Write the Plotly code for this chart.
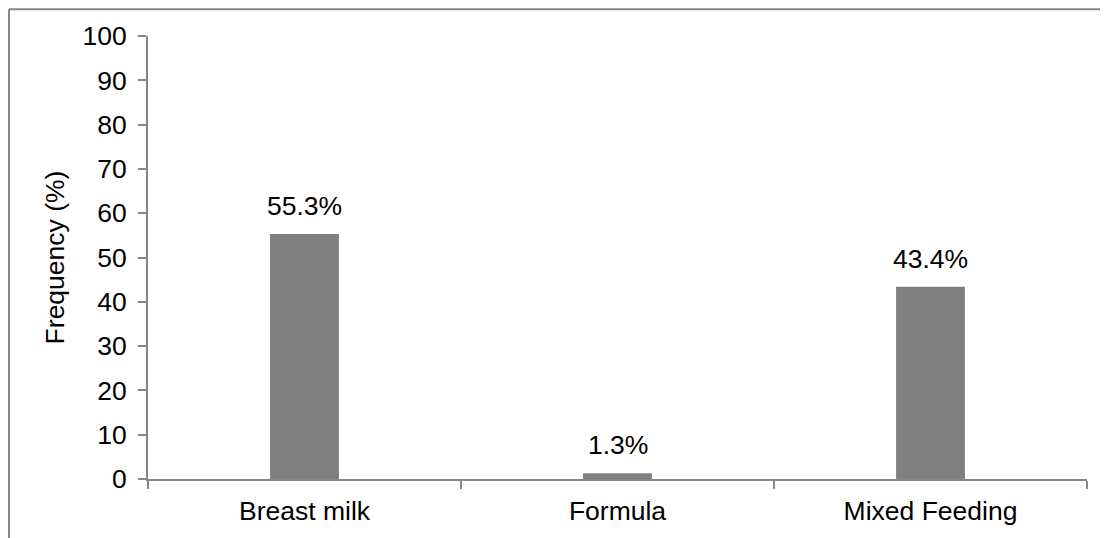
import plotly.graph_objects as go

categories = ["Breast milk", "Formula", "Mixed Feeding"]
values = [55.3, 1.3, 43.4]
labels = ["55.3%", "1.3%", "43.4%"]
y_ticks = [0, 10, 20, 30, 40, 50, 60, 70, 80, 90, 100]

# page has an 8px body margin; figure is placed at (8, 8)
OFF = 8
W, H = 1108 - OFF, 538 - OFF
L, R, T, B = 148 - OFF, 1087 - OFF, 36 - OFF, 483 - OFF

FONT = "Liberation Sans, Arial"
FS = 26.5

fig = go.Figure(go.Bar(
    x=categories, y=values,
    marker=dict(color="#808080", line=dict(width=0)),
    width=0.22,
))

for c, v, t in zip(categories, values, labels):
    fig.add_annotation(x=c, y=v, text=t, showarrow=False, yanchor="bottom",
                       yshift=11, font=dict(family=FONT, size=FS, color="#000000"))

axis_col = "#868686"
fig.update_layout(
    width=W, height=H,
    margin=dict(l=L, r=W - R, t=T, b=H - B, pad=0),
    paper_bgcolor="white", plot_bgcolor="white",
    font=dict(family=FONT, size=FS, color="#000000"),
    showlegend=False,
    xaxis=dict(showline=True, linecolor=axis_col, linewidth=2, ticks="outside",
               tickcolor=axis_col, ticklen=8, tickwidth=1.5, tickson="boundaries",
               showgrid=False, zeroline=False, ticklabelstandoff=7),
    yaxis=dict(range=[0, 100], tickvals=y_ticks, showline=True, linecolor=axis_col,
               linewidth=2, ticks="outside", tickcolor=axis_col, ticklen=8, tickwidth=1.5,
               showgrid=False, zeroline=False, ticklabelstandoff=6,
               title=dict(text="Frequency (%)", standoff=10,
                          font=dict(family=FONT, size=FS))),
)

pw, ph = R - L, B - T
bx, by = 9 - OFF, 9 - OFF
fig.add_shape(type="line", xref="paper", yref="paper",
              x0=(bx - L) / pw, x1=(W + 20 - L) / pw, y0=(B - by) / ph, y1=(B - by) / ph,
              line=dict(color="#868686", width=2))
fig.add_shape(type="line", xref="paper", yref="paper",
              x0=(bx - L) / pw, x1=(bx - L) / pw, y0=(B - by) / ph, y1=(B - H - 20) / ph,
              line=dict(color="#868686", width=2))

fig.write_html("out.html")
